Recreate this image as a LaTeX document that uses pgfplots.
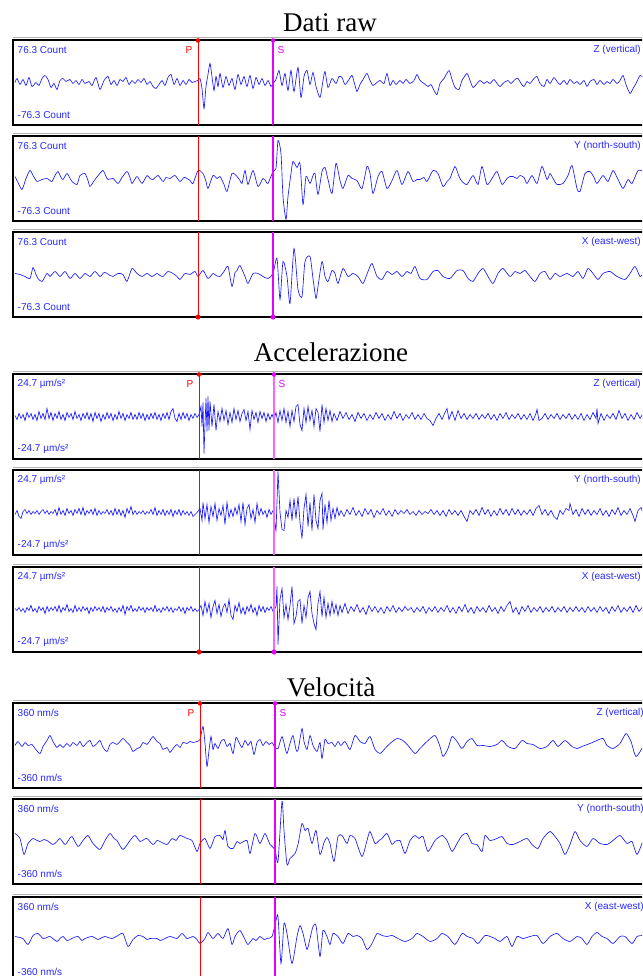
\documentclass[border=0pt]{standalone}
\usepackage{pgfplots}
\pgfplotsset{compat=1.18}
\usepackage{fontspec}
\setmainfont{Liberation Serif}
\newfontfamily\lblfont{Liberation Sans}
\definecolor{trc}{RGB}{25,25,250}
\definecolor{lbl}{RGB}{40,40,255}
\definecolor{smag}{RGB}{230,0,255}
\definecolor{spink}{RGB}{255,100,255}
\tikzset{lbl/.style={font=\lblfont\fontsize{10}{12}\selectfont, text=lbl, inner sep=0pt},
 ttl/.style={font=\fontsize{27}{30}\selectfont, inner sep=0pt, anchor=base}}
\pgfplotsset{trcopt/.style={smooth,tension=0.4}}
\def\compx{641}
% #1 bottom y, #2 amplitude label, #3 component, #4 P x, #5 S x, #6 S style, #7 data, #8 extras
\newcommand{\panel}[8]{%
\begin{axis}[at={(13pt,#1pt)},anchor=south west,scale only axis,width=637pt,height=85pt,
 xmin=13,xmax=650,ymin=-42.5,ymax=42.5,xtick=\empty,ytick=\empty,
 axis line style={line width=2pt},clip=false]
\addplot[color=trc,line width=0.65pt,trcopt] coordinates {#7};
\addplot[color=red,line width=1pt] coordinates {(#4,-42.5)(#4,42.5)};
\addplot[#6] coordinates {(#5,-42.5)(#5,42.5)};
\draw[black!30,line width=0.8pt] ([yshift=2.3pt]rel axis cs:0,1) -- ([yshift=2.3pt]rel axis cs:1,1);
\node[lbl,anchor=west] at (axis cs:17.5,32.5) {#2};
\node[lbl,anchor=west] at (axis cs:17.5,-32.5) {-#2};
\node[lbl,anchor=east] at (axis cs:\compx,32.5) {#3};
#8
\end{axis}}
\newcommand{\psTop}[4]{% P x, S x, P label x, S label x
\addplot[only marks,mark=*,color=red,mark size=2pt] coordinates {(#1,42)};
\addplot[only marks,mark=*,color=smag,mark size=2pt] coordinates {(#2,42)};
\node[lbl,text=red] at (axis cs:#3,32.5) {P};
\node[lbl,text=smag] at (axis cs:#4,32.5) {S};}
\newcommand{\psBot}[2]{%
\addplot[only marks,mark=*,color=red,mark size=2.3pt] coordinates {(#1,-42.5)};
\addplot[only marks,mark=*,color=smag,mark size=2.3pt] coordinates {(#2,-42.5)};}
\begin{document}
\begin{tikzpicture}
\useasboundingbox (0,0) rectangle (642pt,976pt);
\clip (0,0) rectangle (642pt,976pt);
\fill[white] (0,0) rectangle (642pt,976pt);
\node[ttl] at (330pt,944pt) {Dati raw};
\node[ttl] at (331pt,614pt) {Accelerazione};
\node[ttl] at (331pt,279pt) {Velocità};
% ---------------- Dati raw ----------------
\panel{851}{76.3 Count}{Z (vertical)}{198}{273}{color=smag,line width=1.3pt}{(15,0)(17,4)(20,-2)(23,3)(26,-3)(29,5)(32,-4)(36,0)(39,-3)(42,4)(45,7)(48,3)(51,-5)(54,-1)(57,-7)(60,2)(63,4)(66,1)(70,3)(73,-1)(76,2)(79,-2)(82,3)(85,-1)(89,1)(92,-3)(96,5)(100,-7)(104,2)(108,6)(111,-2)(114,2)(117,-3)(120,3)(123,1)(126,5)(129,-2)(132,2)(135,-1)(138,3)(141,0)(144,4)(147,-2)(150,1)(153,-4)(156,-6)(159,-2)(162,2)(165,-3)(168,5)(171,8)(174,-2)(177,4)(180,-3)(183,2)(186,-2)(189,3)(192,0)(195,1)(198,2)(200,4)(202,-6)(204,-26)(206,-4)(208,8)(210,19)(212,6)(214,-8)(216,6)(218,-4)(220,9)(223,-5)(226,6)(229,-3)(232,4)(235,-7)(238,8)(241,-2)(244,6)(247,-4)(250,7)(253,-6)(256,5)(259,-2)(262,4)(265,-3)(268,2)(271,-4)(273,-1)(276,3)(279,12)(282,-3)(285,9)(288,-8)(291,12)(294,-9)(298,15)(301,-15)(304,6)(307,12)(310,-2)(313,10)(316,-4)(320,-15)(323,2)(325,11)(328,-5)(332,4)(336,-1)(339,6)(342,5)(345,-2)(349,3)(352,7)(355,-3)(357,-9)(360,-2)(363,3)(367,9)(370,2)(373,-3)(377,0)(380,2)(384,-1)(387,9)(390,-3)(393,2)(396,-2)(400,2)(403,-1)(406,3)(410,-1)(414,2)(417,8)(420,2)(424,-1)(428,-4)(431,-2)(434,-8)(437,-12)(440,-1)(444,4)(449,12)(452,3)(455,-5)(459,-7)(462,2)(467,9)(470,2)(473,-5)(477,-1)(480,2)(484,-1)(487,1)(490,-1)(494,3)(497,-1)(500,-4)(504,0)(508,2)(511,-1)(515,3)(518,4)(521,-1)(524,-4)(527,1)(530,-1)(534,4)(537,6)(540,-1)(544,-4)(547,3)(550,-1)(554,5)(557,1)(560,-2)(564,2)(567,-2)(570,3)(574,-1)(577,1)(580,-2)(584,2)(587,-4)(590,1)(594,3)(597,-2)(600,2)(604,-2)(607,1)(610,-1)(613,3)(617,-1)(620,2)(623,7)(626,-2)(630,-11)(633,-6)(636,-1)(640,7)(643,5)}{\psTop{198}{273}{189}{281}}
\panel{755}{76.3 Count}{Y (north-south)}{198}{273}{color=smag,line width=1.3pt}{(15,2)(18,-4)(22,-11)(26,0)(30,8)(33,3)(37,-3)(42,-1)(47,0)(50,-2)(52,-3)(55,3)(58,7)(61,1)(63,-1)(67,5)(70,0)(72,-3)(77,-6)(80,3)(85,5)(88,-2)(90,-8)(95,-1)(99,4)(103,8)(106,2)(108,-1)(113,0)(118,-5)(122,1)(127,7)(130,1)(132,-5)(137,2)(142,-5)(147,3)(150,0)(153,-1)(158,3)(163,-3)(166,1)(170,0)(175,3)(180,-3)(184,1)(187,0)(190,-2)(193,-5)(198,8)(203,5)(206,-3)(208,-10)(213,3)(217,0)(220,2)(224,-6)(227,-13)(232,5)(237,2)(240,-2)(242,-5)(245,8)(248,-6)(253,8)(258,-8)(263,0)(266,-3)(268,-5)(273,7)(276,10)(278,38)(281,25)(283,-18)(286,-41)(288,-18)(291,5)(293,17)(297,11)(300,15)(303,-26)(306,2)(310,-5)(313,3)(315,5)(318,-16)(322,7)(325,11)(328,-1)(332,-15)(336,15)(340,-2)(343,-10)(348,3)(352,0)(357,-2)(362,-10)(367,12)(370,5)(373,-15)(378,2)(382,7)(387,-10)(392,-2)(397,8)(402,-6)(408,7)(413,-3)(417,-1)(420,-1)(424,1)(427,-3)(433,8)(438,5)(443,-8)(447,-3)(450,0)(455,12)(459,2)(462,-3)(467,-6)(473,3)(478,-6)(482,12)(487,-6)(492,0)(497,7)(502,-6)(507,0)(510,2)(513,2)(517,0)(520,3)(524,1)(527,-5)(532,3)(537,-5)(542,12)(547,-1)(550,5)(553,0)(557,-6)(563,-5)(568,3)(572,13)(577,-10)(580,-13)(585,5)(590,7)(594,1)(597,-5)(603,3)(608,-3)(613,8)(618,-1)(623,-10)(628,-1)(632,-5)(638,8)(643,7)}{}
\panel{659}{76.3 Count}{X (east-west)}{198}{273}{color=smag,line width=1.3pt}{(15,1)(20,0)(25,-2)(30,-4)(33,7)(36,0)(38,-4)(42,-7)(47,1)(50,-2)(55,3)(60,-2)(65,3)(70,-4)(75,1)(80,-4)(85,1)(90,-2)(95,3)(100,-2)(104,2)(107,1)(110,-1)(113,-2)(118,1)(123,0)(127,-7)(132,6)(137,1)(142,-2)(147,1)(152,-2)(157,1)(160,-1)(163,-2)(168,3)(173,1)(177,-2)(180,-5)(185,1)(190,0)(195,3)(198,-2)(203,4)(208,-4)(213,1)(216,-1)(220,-2)(224,3)(228,8)(232,-12)(235,2)(237,4)(240,9)(245,-2)(248,-9)(253,1)(258,1)(263,-2)(268,-4)(273,1)(277,16)(280,-25)(283,13)(287,-2)(290,-29)(294,26)(298,-15)(302,-22)(305,13)(310,18)(313,-4)(316,-24)(318,-12)(322,13)(325,-2)(328,-7)(332,4)(335,1)(338,-9)(343,6)(348,-2)(353,1)(358,-2)(363,-9)(368,3)(372,11)(377,-2)(382,-5)(387,3)(392,0)(397,3)(402,-2)(407,3)(411,1)(415,8)(420,-4)(427,-5)(433,3)(438,4)(443,-2)(450,-4)(457,4)(463,4)(468,-4)(473,-7)(478,1)(483,6)(488,-2)(493,-9)(498,1)(503,6)(510,-2)(515,3)(520,1)(525,4)(530,-2)(535,-7)(540,1)(545,3)(550,-5)(555,1)(560,-2)(567,1)(573,-2)(578,3)(583,-4)(588,6)(593,1)(598,-5)(603,1)(610,3)(617,-2)(625,-5)(630,1)(635,8)(640,-2)(643,1)}{\psBot{198}{273}}
% ---------------- Accelerazione ----------------
\pgfplotsset{trcopt/.style={}}
\panel{517}{24.7 µm/s²}{Z (vertical)}{199}{274}{color=spink,line width=1.8pt}{(15,1)(17,-3)(19,3)(21,-2)(23,2)(25,-4)(27,4)(29,-1)(31,3)(33,-3)(35,2)(37,-4)(39,5)(41,-2)(43,3)(45,-3)(47,8)(49,-2)(51,4)(53,-4)(55,3)(57,-2)(59,5)(61,-3)(63,2)(65,-4)(67,4)(69,-1)(71,3)(73,-3)(75,5)(77,-2)(79,2)(81,-4)(83,3)(85,-2)(87,4)(89,-3)(91,3)(93,-5)(95,4)(97,-2)(99,3)(101,-5)(103,2)(105,-3)(107,4)(109,-2)(111,3)(113,-4)(115,2)(117,-3)(119,5)(121,-2)(123,3)(125,-4)(127,2)(129,-2)(131,4)(133,-3)(135,2)(137,-3)(139,4)(141,-2)(143,3)(145,-4)(147,2)(149,-3)(151,3)(153,-2)(155,4)(157,-3)(159,2)(161,-4)(163,3)(165,-2)(167,4)(169,-3)(171,5)(173,8)(175,-2)(177,-5)(179,3)(181,-3)(183,4)(185,-2)(187,3)(189,-4)(191,2)(193,-2)(195,3)(197,-1)(199,2)(201,10)(202,-10)(203,14)(204,-37)(205,-8)(206,18)(207,-15)(208,20)(209,-14)(210,15)(212,-10)(214,12)(216,-14)(218,5)(220,-5)(222,8)(224,-4)(226,6)(228,-8)(230,4)(232,-6)(234,8)(236,-3)(238,6)(240,-5)(242,3)(244,7)(246,-4)(248,5)(250,-13)(252,6)(254,-3)(256,4)(258,-6)(260,5)(262,-2)(264,4)(266,-5)(268,3)(270,-3)(272,2)(274,-3)(276,4)(278,-6)(280,6)(282,-4)(284,8)(286,-6)(288,5)(290,-10)(292,6)(294,-5)(296,10)(298,12)(300,-8)(302,-14)(304,8)(306,-6)(308,10)(310,-4)(312,6)(314,-10)(316,8)(318,4)(320,-15)(322,12)(324,-6)(326,8)(328,-4)(330,6)(332,-5)(334,3)(337,-4)(340,5)(343,-2)(346,4)(349,-3)(352,2)(355,-5)(358,4)(361,-2)(364,3)(367,-4)(370,2)(373,-3)(376,4)(379,-2)(382,3)(385,-4)(388,2)(391,-3)(394,5)(397,-2)(400,3)(403,-4)(406,2)(409,-2)(412,4)(415,-3)(418,2)(421,-3)(424,3)(427,-2)(430,-4)(433,-9)(436,-2)(439,3)(442,-3)(445,4)(447,8)(449,-3)(452,5)(455,-4)(458,6)(461,-2)(464,3)(467,-3)(470,2)(473,-2)(476,3)(479,-3)(482,2)(485,-2)(488,3)(491,-3)(494,2)(497,-4)(500,3)(503,-2)(506,4)(509,-3)(512,2)(515,-2)(518,3)(521,-3)(524,2)(527,-3)(530,3)(533,-4)(536,3)(537,7)(539,-4)(542,-2)(545,3)(548,-3)(551,2)(554,-2)(557,3)(560,-3)(563,2)(566,-2)(569,3)(572,-3)(575,2)(578,-3)(581,3)(584,-4)(587,2)(590,-3)(593,4)(596,-2)(597,8)(598,-7)(601,3)(604,-4)(607,2)(610,-2)(613,3)(616,-3)(619,6)(622,-2)(625,3)(628,-4)(631,2)(634,-3)(637,4)(640,-2)(643,3)}{\psTop{199}{274}{190}{282}}
\panel{421}{24.7 µm/s²}{Y (north-south)}{199}{274}{color=spink,line width=1.8pt}{(15,-2)(17,2)(19,-4)(21,-6)(23,1)(25,3)(27,-1)(29,2)(31,-2)(33,1)(35,-1)(37,2)(39,-2)(41,1)(43,3)(45,-1)(47,2)(49,-2)(51,1)(53,-1)(55,3)(57,-3)(59,5)(61,-2)(63,2)(65,-3)(67,4)(69,-1)(71,2)(73,-3)(75,3)(77,-1)(79,4)(81,-2)(83,5)(85,-3)(87,2)(89,-1)(91,3)(93,-2)(95,4)(97,-3)(99,2)(101,-2)(103,1)(105,-1)(107,3)(109,-2)(111,2)(113,-3)(115,4)(117,-2)(119,3)(121,-3)(123,2)(125,-5)(127,4)(129,-1)(131,6)(133,-2)(135,2)(137,-2)(139,1)(141,-1)(143,2)(145,-2)(147,1)(149,-1)(151,3)(153,-2)(155,5)(157,-3)(159,2)(161,-2)(163,3)(165,-3)(167,2)(169,-2)(171,3)(173,-4)(175,2)(177,-2)(179,3)(181,-3)(183,2)(185,-2)(187,1)(189,-3)(191,1)(193,-4)(195,-2)(197,0)(200,4)(202,-8)(203,10)(205,-6)(207,8)(209,-10)(211,6)(213,-4)(215,9)(217,-8)(219,4)(221,-3)(223,7)(225,-12)(227,10)(229,-5)(231,3)(233,-4)(235,5)(237,-2)(239,8)(241,-9)(243,10)(245,-12)(247,4)(249,8)(251,-6)(253,3)(255,-10)(257,9)(259,-3)(261,4)(263,-2)(265,2)(267,-5)(269,3)(271,-2)(273,2)(274,-4)(276,-19)(278,41)(280,0)(282,-17)(284,-18)(286,2)(288,-5)(290,12)(292,-8)(294,14)(296,-6)(298,16)(300,-10)(302,-26)(304,4)(306,18)(308,-14)(310,10)(312,-18)(314,18)(316,-8)(318,-16)(320,12)(322,19)(323,-17)(325,8)(327,-10)(329,12)(331,-8)(333,4)(335,-6)(337,5)(339,-3)(341,2)(344,-4)(347,3)(350,-2)(353,5)(356,-3)(359,2)(362,-4)(365,4)(368,-2)(371,3)(374,-5)(377,2)(380,-2)(383,4)(386,-3)(389,2)(392,-4)(395,3)(398,-2)(401,2)(404,-1)(407,3)(410,-2)(413,1)(416,-3)(419,2)(422,-2)(425,1)(428,-1)(431,3)(434,-2)(437,2)(440,-3)(443,2)(446,-4)(449,3)(452,-2)(455,2)(458,-3)(461,2)(464,-4)(467,-9)(470,2)(473,-2)(476,3)(479,-3)(482,5)(485,-2)(488,3)(491,-4)(494,2)(497,-3)(500,4)(503,-2)(506,3)(509,-3)(512,4)(515,-2)(518,3)(521,-3)(524,2)(527,-2)(530,3)(533,-3)(536,4)(539,7)(542,-2)(545,3)(548,-3)(551,2)(554,-4)(557,-7)(560,2)(563,-2)(566,4)(569,2)(570,9)(573,-2)(576,3)(579,-4)(582,4)(585,-2)(588,3)(591,-3)(594,2)(597,-2)(600,4)(603,-3)(606,2)(609,-4)(612,3)(615,-2)(618,5)(621,-3)(624,2)(627,-2)(630,4)(633,-3)(635,-9)(638,2)(641,5)(643,-1)}{}
\panel{324}{24.7 µm/s²}{X (east-west)}{199}{274}{color=spink,line width=1.8pt}{(15,1)(17,-1)(19,2)(21,-2)(23,1)(25,-3)(27,2)(29,-1)(31,4)(33,-2)(35,1)(37,-3)(39,3)(41,-1)(43,2)(45,-4)(47,3)(49,-2)(51,2)(53,-1)(55,3)(57,-2)(59,4)(61,-3)(63,2)(65,-1)(67,5)(69,-2)(71,1)(73,-3)(75,4)(77,-2)(79,2)(81,-2)(83,3)(85,-1)(87,2)(89,-4)(91,2)(93,-2)(95,3)(97,-1)(99,2)(101,-2)(103,3)(105,-3)(107,2)(109,-1)(111,3)(113,-2)(115,1)(117,-3)(119,2)(121,-2)(123,4)(125,-5)(127,3)(129,-1)(131,4)(133,-2)(135,1)(137,-2)(139,3)(141,-1)(143,2)(145,-3)(147,2)(149,-1)(151,2)(153,-2)(155,4)(157,-2)(159,1)(161,-3)(163,2)(165,-1)(167,3)(169,-2)(171,2)(173,-3)(175,1)(177,-1)(179,3)(181,-2)(183,2)(185,-4)(187,2)(189,-1)(191,3)(193,-2)(195,1)(197,-2)(199,0)(201,4)(203,-6)(205,8)(207,-3)(209,6)(211,-8)(213,3)(215,9)(217,-4)(219,5)(221,-7)(223,2)(225,6)(227,-3)(229,10)(231,-6)(233,-10)(235,4)(237,-2)(239,7)(241,-4)(243,2)(245,-5)(247,3)(249,-2)(251,5)(253,-3)(255,2)(257,-6)(259,4)(261,-2)(263,3)(265,-3)(267,2)(269,-1)(271,3)(273,-2)(275,1)(276,3)(277,23)(278,-35)(280,10)(282,21)(284,-8)(286,5)(288,-10)(290,4)(292,23)(294,-14)(296,-7)(298,8)(300,10)(302,-14)(304,4)(306,-8)(308,12)(310,18)(312,-4)(314,-14)(316,-20)(318,6)(320,18)(322,-7)(324,12)(326,-8)(328,6)(330,-6)(332,8)(334,-4)(336,5)(338,-6)(340,4)(342,-3)(345,6)(348,-4)(351,3)(354,-2)(357,5)(360,-3)(363,2)(366,-5)(369,4)(372,-2)(375,3)(378,-3)(381,2)(384,-4)(387,3)(390,-2)(393,4)(396,-3)(399,2)(402,-2)(405,3)(408,-1)(411,2)(414,-3)(417,2)(420,-2)(423,3)(426,-4)(429,2)(432,-2)(435,3)(438,-3)(441,2)(444,-2)(447,4)(450,-3)(453,2)(456,-4)(459,3)(462,-2)(465,5)(468,-3)(471,2)(474,-4)(477,3)(480,-2)(483,2)(486,-3)(489,4)(492,-2)(495,2)(498,-4)(501,3)(504,-2)(507,4)(510,8)(513,-3)(516,2)(519,-5)(522,3)(525,-2)(528,4)(531,-3)(534,2)(537,-2)(540,3)(543,-3)(546,2)(549,-2)(552,3)(555,-3)(558,2)(561,-2)(564,3)(567,-3)(570,2)(573,-2)(576,3)(579,-2)(582,2)(585,-3)(588,3)(591,-2)(594,2)(597,-3)(600,3)(603,-2)(606,2)(609,-4)(612,3)(615,-2)(618,4)(621,-3)(624,2)(627,-2)(630,3)(633,-3)(636,4)(639,-2)(642,2)}{\psBot{199}{274}}
% ---------------- Velocita ----------------
\pgfplotsset{trcopt/.style={smooth,tension=0.4}}
\def\compx{644}
\panel{188}{360 nm/s}{Z (vertical)}{200}{275}{color=smag,line width=1.3pt}{(15,0)(18,4)(22,-1)(25,3)(28,0)(32,1)(35,-3)(40,-8)(43,-1)(47,5)(50,10)(53,4)(57,-2)(60,1)(63,-2)(67,2)(70,-1)(73,3)(77,0)(80,4)(83,-1)(87,3)(90,5)(93,-1)(97,2)(100,5)(103,-2)(107,-6)(110,1)(113,3)(117,1)(120,4)(123,7)(127,3)(130,0)(133,-6)(137,-3)(140,-2)(143,3)(147,1)(150,5)(153,9)(157,4)(160,2)(163,-4)(167,-2)(170,-7)(173,-3)(177,1)(180,-2)(183,3)(187,2)(190,4)(193,3)(197,4)(200,6)(203,19)(205,2)(207,-21)(209,-5)(211,9)(213,-4)(215,2)(218,-3)(221,4)(224,6)(227,-1)(230,2)(233,-8)(236,8)(239,3)(242,-2)(245,5)(248,0)(251,4)(254,-9)(257,3)(260,6)(263,0)(266,4)(269,1)(272,3)(275,-2)(278,-3)(282,9)(285,-2)(287,-8)(290,2)(293,10)(296,-4)(298,-5)(302,17)(304,4)(307,-4)(310,10)(313,0)(317,-6)(320,3)(322,-13)(325,6)(328,2)(332,3)(335,-1)(338,4)(341,0)(345,4)(350,-4)(355,10)(360,4)(365,2)(370,9)(375,-4)(380,-8)(385,-3)(390,2)(397,7)(403,5)(408,0)(415,-8)(420,-3)(427,4)(435,10)(440,-1)(443,-11)(448,-3)(452,9)(457,4)(462,-3)(467,4)(472,7)(477,0)(483,0)(490,-1)(497,1)(502,5)(508,-1)(515,-3)(522,5)(527,2)(533,1)(540,-3)(547,-1)(553,5)(558,-1)(565,5)(572,-1)(577,-3)(582,-1)(590,2)(597,5)(603,7)(607,0)(613,-3)(620,2)(626,12)(631,4)(636,-11)(643,-1)}{\psTop{200}{275}{191}{283}}
\panel{92}{360 nm/s}{Y (north-south)}{200}{275}{color=smag,line width=1.3pt}{(15,8)(20,3)(24,-13)(28,-2)(33,3)(37,1)(40,0)(44,2)(47,1)(53,-3)(57,0)(60,3)(65,-3)(69,2)(72,5)(78,-5)(83,1)(88,6)(93,-2)(100,-8)(105,1)(110,8)(114,3)(117,1)(123,-8)(130,1)(135,6)(140,0)(144,2)(147,3)(153,-3)(157,1)(160,0)(167,-3)(172,3)(176,1)(180,6)(187,3)(192,1)(197,-10)(200,-2)(205,3)(210,-7)(215,5)(220,6)(223,2)(225,11)(228,-5)(233,-7)(237,0)(240,-2)(247,1)(250,-12)(255,8)(260,-2)(265,8)(270,-3)(275,-8)(278,-20)(282,40)(284,11)(287,-23)(290,-17)(295,-12)(298,-3)(302,18)(305,11)(308,13)(312,-2)(316,11)(320,-13)(324,-1)(327,4)(330,-2)(334,-20)(338,5)(342,6)(347,-2)(350,6)(355,3)(362,-15)(367,1)(370,10)(375,-2)(379,1)(382,3)(387,8)(392,-3)(395,0)(400,1)(405,-12)(410,1)(415,6)(419,3)(423,5)(428,-10)(435,1)(442,6)(447,1)(452,-10)(457,-2)(462,6)(467,8)(472,-2)(477,-3)(482,-10)(485,6)(490,1)(497,3)(502,5)(507,-2)(513,-3)(520,0)(527,3)(532,-3)(538,-7)(543,3)(550,10)(555,5)(560,-2)(565,-13)(570,-3)(575,10)(580,1)(587,-5)(593,3)(600,-2)(607,-3)(613,1)(620,6)(627,-2)(632,0)(637,-13)(643,1)}{}
\panel{-6}{360 nm/s}{X (east-west)}{200}{275}{color=smag,line width=1.3pt}{(15,3)(20,2)(23,1)(28,-5)(33,4)(38,6)(43,1)(47,2)(50,3)(57,-2)(60,1)(63,3)(67,-1)(70,0)(74,2)(78,3)(82,-1)(85,1)(92,3)(98,0)(102,2)(105,3)(112,1)(118,4)(123,6)(128,-7)(133,0)(138,4)(143,3)(147,0)(150,1)(157,1)(160,-1)(163,0)(170,3)(177,1)(182,6)(187,1)(193,3)(197,0)(200,-4)(205,1)(208,7)(213,1)(218,6)(223,1)(228,11)(232,-5)(235,3)(240,9)(245,0)(248,-5)(253,1)(256,-1)(260,3)(264,0)(267,1)(272,3)(276,19)(278,23)(281,-24)(284,16)(287,6)(292,-24)(297,3)(300,14)(303,6)(307,-10)(310,1)(313,13)(316,14)(320,-17)(323,9)(327,3)(330,-5)(333,6)(338,3)(343,-4)(348,6)(353,3)(357,4)(362,1)(367,-10)(372,-4)(377,6)(382,4)(387,3)(392,4)(398,1)(405,-2)(412,1)(417,6)(423,3)(430,-2)(437,1)(442,6)(448,3)(455,-5)(462,6)(467,3)(473,1)(478,-4)(485,4)(490,3)(495,1)(500,-2)(507,3)(512,-7)(517,3)(523,1)(530,3)(537,4)(543,-4)(550,3)(557,6)(563,1)(570,-2)(577,3)(582,1)(587,-5)(592,3)(597,7)(602,3)(607,1)(613,-4)(620,3)(625,3)(632,-4)(637,3)(643,4)}{}
\end{tikzpicture}
\end{document}
